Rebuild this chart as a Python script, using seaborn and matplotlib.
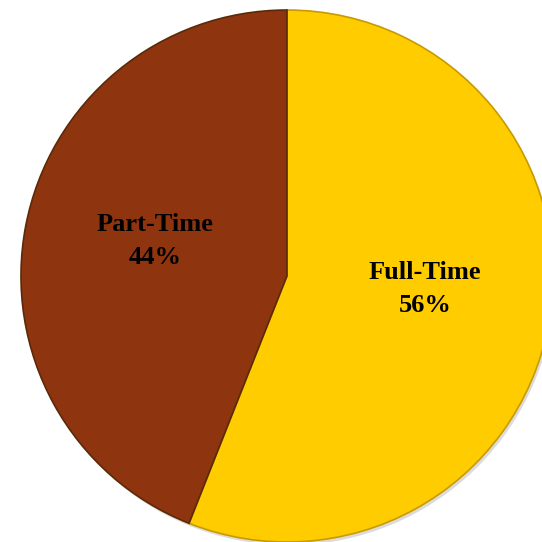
import matplotlib
matplotlib.use('Agg')
import matplotlib.pyplot as plt
import seaborn as sns

# данные
labels = ['Full-Time', 'Part-Time']
shares = [56, 44]
colors = ['#FFCC00', '#8E340F']

sns.set_theme(style='white')
plt.rcParams['font.family'] = ['Liberation Serif', 'DejaVu Serif']

fig = plt.figure(figsize=(5.42, 5.42), dpi=100)
# круг немного выходит за края картинки
ax = fig.add_axes([0.0387, 0.0, 0.9815, 0.9815])

# мягкая тень под кругом
shadow = plt.Circle((0.008, -0.012), 1.0, color='#9a9a9a', alpha=0.35, lw=0)
ax.add_patch(shadow)

wedges, _ = ax.pie(
    shares,
    colors=colors,
    startangle=90,
    counterclock=False,
    radius=1.0,
    wedgeprops=dict(edgecolor='#5a2a08', linewidth=1.2),
)
wedges[0].set_edgecolor('#c99a00')

# подписи внутри секторов
label_pos = [(0.519, -0.05), (-0.496, 0.13)]
for (x, y), name, val in zip(label_pos, labels, shares):
    ax.text(x, y, f'{name}\n{val}%', ha='center', va='center',
            fontsize=19, fontweight='bold', color='black', linespacing=1.55)

ax.set_xlim(-1, 1)
ax.set_ylim(-1, 1)
ax.set_aspect('equal')
ax.axis('off')

plt.savefig('out.png', dpi=100)
plt.close()
